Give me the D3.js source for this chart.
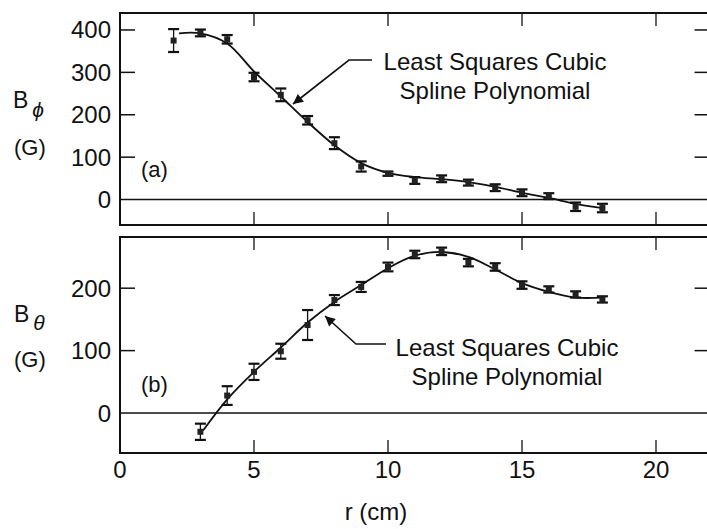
<!DOCTYPE html>
<html>
<head>
<meta charset="utf-8">
<script src="https://cdn.jsdelivr.net/npm/d3@7"></script>
<style>
  html, body { margin: 0; padding: 0; background: #fff; }
  svg text { font-family: "Liberation Sans", Arial, Helvetica, sans-serif; fill: #111; }
</style>
</head>
<body>
<svg id="chart" width="707" height="529"></svg>
<script>
// ---------- Data ----------
const rPhi = [2, 3, 4, 5, 6, 7, 8, 9, 10, 11, 12, 13, 14, 15, 16, 17, 18];
const bPhi = [375, 393, 378, 289, 247, 187, 133, 78, 61, 45, 49, 40, 28, 16, 8, -17, -20];
const bPhiErr = [27, 8, 10, 10, 15, 10, 14, 12, 5, 8, 8, 7, 8, 8, 7, 10, 10];

const fitPhiR = [2.2, 3, 4, 5, 6, 7, 8, 9, 10, 11, 12, 13, 14, 15, 16, 17, 18];
const fitPhi = [392, 392, 368, 302, 243, 183, 128, 86, 63, 53, 48, 41, 30, 16, 4, -10, -20];

const rTheta = [3, 4, 5, 6, 7, 8, 9, 10, 11, 12, 13, 14, 15, 16, 17, 18];
const bTheta = [-30, 28, 66, 99, 141, 181, 202, 234, 254, 259, 241, 234, 205, 198, 190, 182];
const bThetaErr = [13, 15, 13, 12, 24, 8, 8, 7, 6, 6, 6, 6, 6, 5, 5, 5];

const fitThetaR = [3.1, 4, 5, 6, 7, 8, 9, 10, 11, 12, 13, 14, 15, 16, 17, 18];
const fitTheta = [-28, 22, 66, 105, 145, 178, 205, 232, 252, 258, 250, 230, 208, 194, 185, 185];

const xTicks = [0, 5, 10, 15, 20];
const phiTicks = [0, 100, 200, 300, 400];
const thetaTicks = [0, 100, 200];

// ---------- Layout ----------
const svg = d3.select("#chart");
const x = d3.scaleLinear().domain([0, 22]).range([120, 709.6]);
const yTop = d3.scaleLinear().domain([-60, 440]).range([225, 13]);
const yBot = d3.scaleLinear().domain([-64, 282]).range([453, 237]);

const FS = 24;

function panel(y, yTicks, rs, vals, errs, fitR, fitV) {
  const [y0, y1] = y.range();
  const [x0, x1] = x.range();
  const g = svg.append("g");
  g.append("rect").attr("x", x0).attr("y", y1).attr("width", x1 - x0).attr("height", y0 - y1)
    .attr("fill", "none").attr("stroke", "#111").attr("stroke-width", 2);
  g.append("line").attr("x1", x0).attr("x2", x1).attr("y1", y(0)).attr("y2", y(0))
    .attr("stroke", "#111").attr("stroke-width", 1.6);
  xTicks.filter(t => t > 0).forEach(t => {
    g.append("line").attr("x1", x(t)).attr("x2", x(t)).attr("y1", y1).attr("y2", y1 + 13)
      .attr("stroke", "#111").attr("stroke-width", 1.3);
    g.append("line").attr("x1", x(t)).attr("x2", x(t)).attr("y1", y0).attr("y2", y0 - 13)
      .attr("stroke", "#111").attr("stroke-width", 1.3);
  });
  yTicks.filter(t => t !== 0).forEach(t => {
    g.append("line").attr("x1", x0).attr("x2", x0 + 15).attr("y1", y(t)).attr("y2", y(t))
      .attr("stroke", "#111").attr("stroke-width", 1.5);
    g.append("line").attr("x1", x1).attr("x2", x1 - 15).attr("y1", y(t)).attr("y2", y(t))
      .attr("stroke", "#111").attr("stroke-width", 1.5);
  });
  g.selectAll("text.yt").data(yTicks).enter().append("text").attr("class", "yt")
    .attr("x", 111).attr("y", d => y(d)).attr("text-anchor", "end")
    .attr("dominant-baseline", "central").attr("font-size", FS).text(d => d);
  const line = d3.line().x((d, i) => x(fitR[i])).y(d => y(d)).curve(d3.curveCatmullRom.alpha(0.5));
  g.append("path").attr("d", line(fitV)).attr("fill", "none").attr("stroke", "#111").attr("stroke-width", 1.8);
  rs.forEach((r, i) => {
    const cx = x(r), top = y(vals[i] + errs[i]), bot = y(vals[i] - errs[i]);
    g.append("line").attr("x1", cx).attr("x2", cx).attr("y1", top).attr("y2", bot)
      .attr("stroke", "#111").attr("stroke-width", 1.3);
    [top, bot].forEach(yy => g.append("line").attr("x1", cx - 5.5).attr("x2", cx + 5.5)
      .attr("y1", yy).attr("y2", yy).attr("stroke", "#111").attr("stroke-width", 2.2));
    g.append("rect").attr("x", cx - 3).attr("y", y(vals[i]) - 3).attr("width", 6).attr("height", 6)
      .attr("fill", "#222");
  });
  return g;
}

panel(yTop, phiTicks, rPhi, bPhi, bPhiErr, fitPhiR, fitPhi);
panel(yBot, thetaTicks, rTheta, bTheta, bThetaErr, fitThetaR, fitTheta);

svg.selectAll("text.xt").data(xTicks).enter().append("text").attr("class", "xt")
  .attr("x", d => x(d)).attr("y", 478).attr("text-anchor", "middle")
  .attr("font-size", FS).text(d => d);
svg.append("text").attr("x", 376).attr("y", 520).attr("text-anchor", "middle")
  .attr("font-size", FS).text("r (cm)");

function yTitle(xB, yB, sym, ySym, yG) {
  const t = svg.append("text").attr("x", xB).attr("y", yB).style("font-size", "23px");
  t.append("tspan").text("B");
  t.append("tspan").attr("dx", 4).attr("dy", ySym - yB).style("font-style", "italic")
    .style("font-size", "21px").text(sym);
  svg.append("text").attr("x", 14).attr("y", yG).style("font-size", "22px").text("(G)");
}
yTitle(13, 108, "\u03D5", 117, 155);
yTitle(14, 322, "\u03B8", 330, 367);

svg.append("text").attr("x", 141).attr("y", 177).attr("font-size", 22).text("(a)");
svg.append("text").attr("x", 141).attr("y", 392).attr("font-size", 22).text("(b)");

const defs = svg.append("defs");
defs.append("marker").attr("id", "ah").attr("viewBox", "0 0 10 10").attr("refX", 10).attr("refY", 5)
  .attr("markerWidth", 14).attr("markerHeight", 10).attr("markerUnits", "userSpaceOnUse")
  .attr("orient", "auto")
  .append("path").attr("d", "M0,0 L10,5 L0,10 Z").attr("fill", "#111");

function annot(pts, cx, yL1, yL2) {
  svg.append("path").attr("d", d3.line()(pts)).attr("fill", "none").attr("stroke", "#111")
    .attr("stroke-width", 1.6).attr("marker-end", "url(#ah)");
  svg.append("text").attr("x", cx).attr("y", yL1).attr("text-anchor", "middle").attr("font-size", FS)
    .text("Least Squares Cubic");
  svg.append("text").attr("x", cx).attr("y", yL2).attr("text-anchor", "middle").attr("font-size", FS)
    .text("Spline Polynomial");
}
annot([[372, 60], [349, 60], [293, 104]], 495, 70, 99);
annot([[386, 344], [356, 344], [325, 316]], 507, 356, 385);
</script>
</body>
</html>
